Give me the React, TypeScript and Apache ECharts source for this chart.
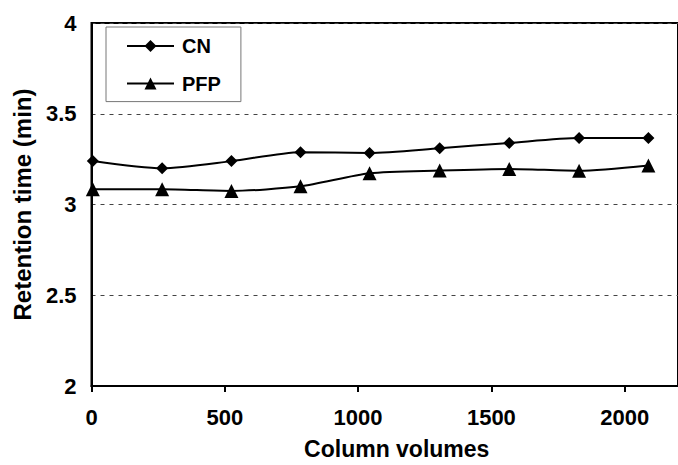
import React, { useEffect, useRef } from "react";
import * as echarts from "echarts";

const columnVolumes = [5, 265, 525, 784, 1043, 1306, 1567, 1829, 2089];
const cnValues = [3.24, 3.2, 3.239, 3.288, 3.284, 3.31, 3.339, 3.366, 3.366];
const pfpValues = [3.084, 3.084, 3.075, 3.1, 3.172, 3.187, 3.196, 3.186, 3.215];
const xTickValues = [0, 500, 1000, 1500, 2000];
const seriesNames = ["CN", "PFP"];
const xAxisTitle = "Column volumes";
const yAxisTitle = "Retention time (min)";

const FONT = "'Liberation Sans', Arial, Helvetica, sans-serif";

export default function App() {
  const ref = useRef<HTMLDivElement>(null);
  useEffect(() => {
    if (!ref.current) return;
    const chart = echarts.init(ref.current, null, { renderer: "svg" });
    const pair = (ys: number[]) => columnVolumes.map((x, i) => [x, ys[i]]);
    chart.setOption({
      animation: false,
      backgroundColor: "#ffffff",
      textStyle: { fontFamily: FONT },
      grid: {
        left: 91.5,
        top: 23,
        bottom: 76,
        right: -6,
        show: true,
        borderColor: "#000",
        borderWidth: 2,
        backgroundColor: "transparent",
      },
      legend: {
        orient: "vertical",
        left: 106,
        top: 27,
        padding: [9, 20, 8, 20],
        itemGap: 17.6,
        itemWidth: 47,
        itemHeight: 15,
        borderColor: "#777",
        borderWidth: 1,
        textStyle: {
          fontFamily: FONT,
          fontSize: 20,
          fontWeight: "bold",
          color: "#000",
          lineHeight: 20,
          padding: [0, 0, 0, 3],
        },
        data: seriesNames,
      },
      xAxis: {
        type: "value",
        min: 0,
        max: 2200,
        interval: 500,
        name: xAxisTitle,
        nameLocation: "middle",
        nameGap: 51,
        nameTextStyle: {
          fontFamily: FONT,
          fontSize: 23,
          fontWeight: "bold",
          color: "#000",
          padding: [0, 0, 0, 24],
        },
        axisLine: { show: true, onZero: false, lineStyle: { color: "#000", width: 2 } },
        axisTick: {
          show: true,
          inside: false,
          length: 6,
          lineStyle: { color: "#000", width: 2 },
          customValues: xTickValues,
        },
        axisLabel: {
          fontFamily: FONT,
          fontSize: 22,
          fontWeight: "bold",
          color: "#000",
          margin: 20,
          customValues: xTickValues,
          formatter: (v: number) => String(v),
        },
        splitLine: { show: false },
      },
      yAxis: {
        type: "value",
        min: 2,
        max: 4,
        interval: 0.5,
        name: yAxisTitle,
        nameLocation: "middle",
        nameGap: 57,
        nameTextStyle: {
          fontFamily: FONT,
          fontSize: 24,
          fontWeight: "bold",
          color: "#000",
        },
        axisLine: { show: true, lineStyle: { color: "#000", width: 2 } },
        axisTick: { show: false },
        axisLabel: {
          fontFamily: FONT,
          fontSize: 22,
          fontWeight: "bold",
          color: "#000",
          margin: 15,
          formatter: (v: number) => String(v),
        },
        splitLine: {
          show: true,
          lineStyle: { color: "#444", width: 1, type: [4, 5] },
        },
      },
      series: [
        {
          name: seriesNames[0],
          type: "line",
          data: pair(cnValues),
          smooth: 0.25,
          symbol: "diamond",
          symbolSize: 12,
          lineStyle: { color: "#000", width: 2 },
          itemStyle: { color: "#000" },
          z: 3,
        },
        {
          name: seriesNames[1],
          type: "line",
          data: pair(pfpValues),
          smooth: 0.25,
          symbol: "triangle",
          symbolSize: 14,
          lineStyle: { color: "#000", width: 2 },
          itemStyle: { color: "#000" },
          z: 3,
        },
      ],
    });
    return () => chart.dispose();
  }, []);
  return (
    <div
      ref={ref}
      style={{ position: "fixed", left: 0, top: 0, width: 678, height: 465, background: "#fff" }}
    />
  );
}
